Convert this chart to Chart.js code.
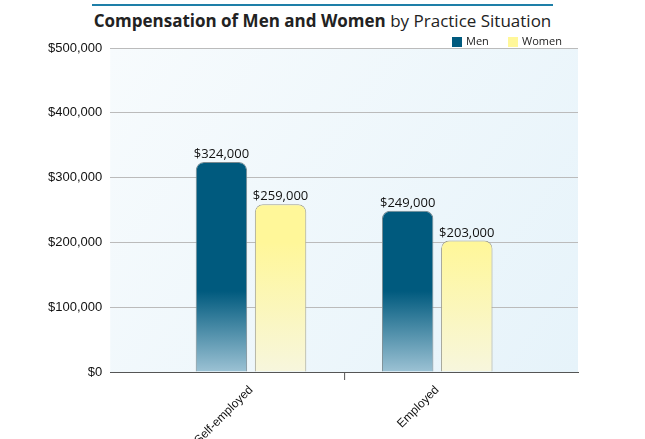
<!DOCTYPE html>
<html>
<head>
<meta charset="utf-8">
<script src="https://cdn.jsdelivr.net/npm/chart.js@4/dist/chart.umd.min.js"></script>
<style>
  body { margin: 0; background: #fff; font-family: "Open Sans", "Liberation Sans", sans-serif; }
  #wrap { position: relative; width: 645px; height: 439px; }
  #title { position: absolute; left: 92px; top: 4px; width: 461px; border-top: 2px solid #1e7fa8;
           text-align: center; font-size: 17px; color: #222; padding-top: 3px; }
  #title b { font-weight: 700; }
  canvas { position: absolute; left: 0; top: 0; }
</style>
</head>
<body>
<div id="wrap">
  <div id="title"><b>Compensation of Men and Women</b> by Practice Situation</div>
  <canvas id="c" width="645" height="439"></canvas>
</div>
<script>
const categories = ["Self-employed", "Employed"];
const menValues = [324000, 249000];
const womenValues = [259000, 203000];
const yTicks = [0, 100000, 200000, 300000, 400000, 500000];

function money(v) { return "$" + v.toLocaleString("en-US"); }

function menFill(ctx) {
    const area = ctx.chart.chartArea;
    if (!area) return "#005a7e";
    const g = ctx.chart.ctx.createLinearGradient(0, area.top, 0, area.bottom);
    g.addColorStop(0, "#005a7e");
    g.addColorStop(0.75, "#005a7e");
    g.addColorStop(1, "#9cc2d4");
    return g;
}
function womenFill(ctx) {
    const area = ctx.chart.chartArea;
    if (!area) return "#fff799";
    const g = ctx.chart.ctx.createLinearGradient(0, area.top, 0, area.bottom);
    g.addColorStop(0, "#fff799");
    g.addColorStop(0.6, "#fff799");
    g.addColorStop(1, "#f7f6dd");
    return g;
}

const plotBg = {
    id: "plotBg",
    beforeDraw(chart) {
        const { ctx, chartArea: a } = chart;
        const g = ctx.createLinearGradient(a.left, a.top, a.right, a.bottom);
        g.addColorStop(0, "#f7fbfd");
        g.addColorStop(1, "#e6f3fa");
        ctx.save();
        ctx.fillStyle = g;
        ctx.fillRect(a.left, a.top, a.right - a.left, a.bottom - a.top);
        // middle tick between categories
        const xm = chart.scales.x.getPixelForValue(0.5);
        ctx.strokeStyle = "#555";
        ctx.beginPath();
        ctx.moveTo(xm + 0.5, a.bottom);
        ctx.lineTo(xm + 0.5, a.bottom + 8);
        ctx.stroke();
        ctx.restore();
    }
};

const overlay = {
    id: "overlay",
    afterDatasetsDraw(chart) {
        const ctx = chart.ctx;
        const a = chart.chartArea;
        ctx.save();
        ctx.font = "13px 'Open Sans', sans-serif";
        ctx.fillStyle = "#111";
        ctx.textAlign = "center";
        ctx.textBaseline = "bottom";
        chart.data.datasets.forEach((ds, i) => {
            chart.getDatasetMeta(i).data.forEach((bar, j) => {
                ctx.fillText(money(ds.data[j].y), bar.x, bar.y - 1);
            });
        });
        // legend
        ctx.font = "11px 'Open Sans', sans-serif";
        ctx.textAlign = "left";
        ctx.textBaseline = "middle";
        const items = [["Men", "#005a7e", 452], ["Women", "#fff799", 508]];
        items.forEach(([t, c, x]) => {
            ctx.fillStyle = c;
            ctx.fillRect(x, a.top - 11, 10, 10);
            ctx.fillStyle = "#222";
            ctx.fillText(t, x + 14, a.top - 6);
        });
        ctx.restore();
    }
};

new Chart(document.getElementById("c"), {
    type: "bar",
    data: {
        datasets: [
            { label: "Men", data: menValues.map((v, i) => ({ x: i, y: v })), backgroundColor: menFill,
              borderColor: "#7a8a90", borderWidth: 1, borderRadius: { topLeft: 8, topRight: 8 }, borderSkipped: "bottom" },
            { label: "Women", data: womenValues.map((v, i) => ({ x: i, y: v })), backgroundColor: womenFill,
              borderColor: "#a0a090", borderWidth: 1, borderRadius: { topLeft: 8, topRight: 8 }, borderSkipped: "bottom" }
        ]
    },
    options: {
        responsive: false,
        animation: false,
        layout: { padding: { top: 48, right: 67, left: 40, bottom: 0 } },
        categoryPercentage: 0.635,
        barPercentage: 0.87,
        plugins: { legend: { display: false }, tooltip: { enabled: false } },
        scales: {
            x: {
                type: "linear",
                min: -0.756, max: 1.756,
                offset: false,
                afterBuildTicks(axis) { axis.ticks = [{ value: 0 }, { value: 1 }]; },
                afterFit(axis) { axis.height = 67; },
                grid: { display: false },
                border: { color: "#555" },
                ticks: { callback: v => categories[v], maxRotation: 45, minRotation: 45, color: "#111", font: { size: 12 } }
            },
            y: {
                min: 0, max: 500000,
                afterBuildTicks(axis) { axis.ticks = yTicks.map(v => ({ value: v })); },
                grid: { color: "#bbb", borderDash: [2, 2], drawTicks: false },
                border: { display: false },
                ticks: { callback: v => money(v), color: "#111", font: { size: 13 }, padding: 8 }
            }
        }
    },
    plugins: [plotBg, overlay]
});
</script>
</body>
</html>
